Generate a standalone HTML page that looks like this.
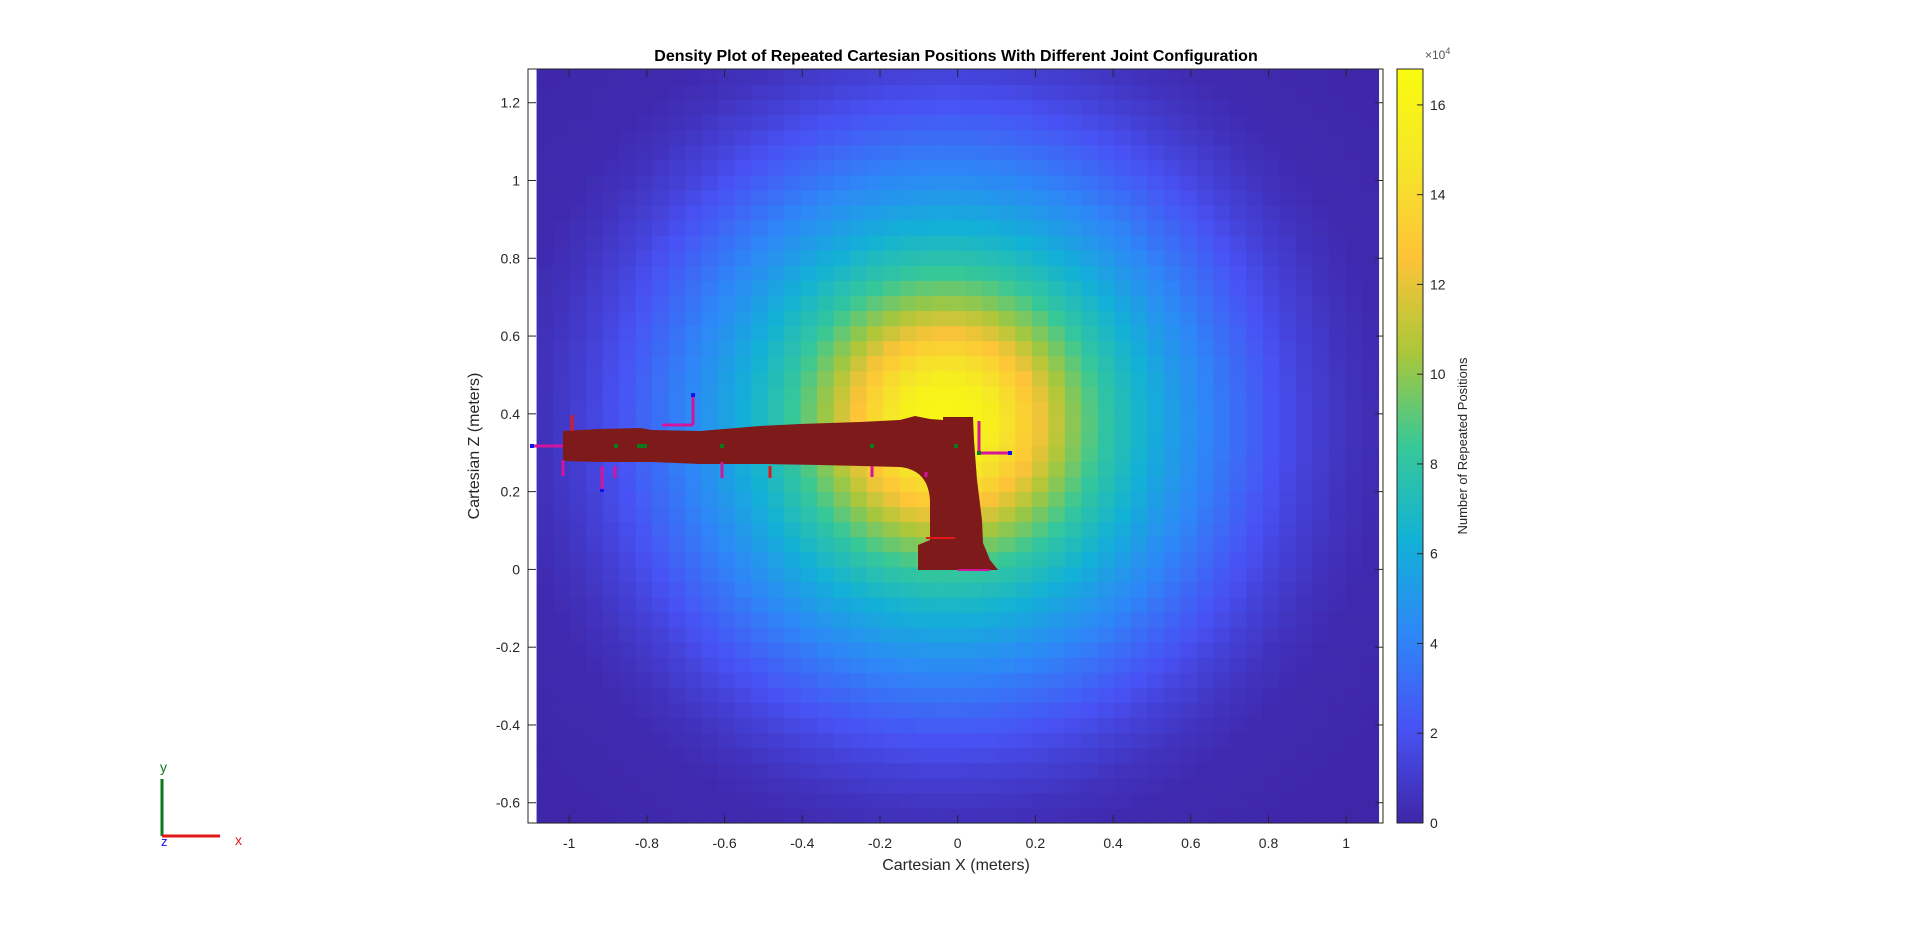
<!DOCTYPE html>
<html><head><meta charset="utf-8">
<style>
html,body{margin:0;padding:0;background:#fff;}
svg text{font-family:"Liberation Sans",Arial,sans-serif;}
</style></head>
<body>
<svg id="chart" width="1920" height="926" viewBox="0 0 1920 926" xmlns="http://www.w3.org/2000/svg">
<g id="heat"></g>
<g id="robot">
<path fill="#7f1a1a" d="M563,431 L600,429 L640,428 L652,430 L700,431 L760,426 L800,424 L860,422 L900,420 L915,416 L930,419 L943,420 L943,417 L973,417 L974,440 L977,480 L982,520 L983,543 L990,560 L998,570 L918,570 L918,545 L930,540 L930,500 Q928,470 900,467 L820,465 L760,464 L700,464 L652,462 L600,462 L563,461 Z"/>
<g stroke-width="3">
<line x1="533" y1="446" x2="563" y2="446" stroke="#d4149c"/><rect x="530" y="444" width="4" height="4" fill="#1010f0"/>
<line x1="572" y1="415" x2="572" y2="431" stroke="#e01818"/>
<line x1="563" y1="460" x2="563" y2="476" stroke="#d4149c"/>
<line x1="602" y1="466" x2="602" y2="490" stroke="#d4149c"/><rect x="600" y="489" width="4" height="3" fill="#1010f0"/>
<line x1="615" y1="466" x2="615" y2="478" stroke="#d4149c"/>
<line x1="693" y1="395" x2="693" y2="425" stroke="#d4149c"/><rect x="691" y="393" width="4" height="4" fill="#1010f0"/>
<line x1="662" y1="425" x2="693" y2="425" stroke="#d4149c"/>
<line x1="722" y1="462" x2="722" y2="478" stroke="#d4149c"/>
<line x1="770" y1="466" x2="770" y2="478" stroke="#e01818"/>
<line x1="872" y1="466" x2="872" y2="477" stroke="#d4149c"/>
<line x1="926" y1="472" x2="926" y2="477" stroke="#d4149c"/>
<line x1="979" y1="421" x2="979" y2="452" stroke="#d4149c"/>
<line x1="979" y1="453" x2="1010" y2="453" stroke="#d4149c"/><rect x="1008" y="451" width="4" height="4" fill="#1010f0"/>
<line x1="926" y1="538" x2="955" y2="538" stroke="#e01818" stroke-width="2"/>
<line x1="958" y1="570" x2="990" y2="570" stroke="#d4149c" stroke-width="2"/>
</g>
<g fill="#0a7a1a">
<rect x="614" y="444" width="4" height="4"/><rect x="637" y="444" width="10" height="4"/><rect x="720" y="444" width="4" height="4"/><rect x="870" y="444" width="4" height="4"/><rect x="954" y="444" width="4" height="4"/><rect x="977" y="451" width="4" height="4"/>
</g>
</g>
<g id="axes"></g>
<g id="cbar"></g>
<text x="956" y="61" text-anchor="middle" font-size="16" font-weight="bold" fill="#000">Density Plot of Repeated Cartesian Positions With Different Joint Configuration</text>
<text x="956" y="870" text-anchor="middle" font-size="16" fill="#262626">Cartesian X (meters)</text>
<text transform="translate(479,446) rotate(-90)" text-anchor="middle" font-size="16" fill="#262626">Cartesian Z (meters)</text>
<text transform="translate(1467,446) rotate(-90)" text-anchor="middle" font-size="13" fill="#262626">Number of Repeated Positions</text>
<g>
<line x1="162" y1="779" x2="162" y2="836" stroke="#0a7a1a" stroke-width="3"/>
<line x1="162" y1="836" x2="220" y2="836" stroke="#e01818" stroke-width="3"/>
<text x="160" y="772" font-size="14" fill="#0a7a1a">y</text>
<text x="235" y="845" font-size="14" fill="#e01818">x</text>
<text x="161" y="846" font-size="13" fill="#1010f0">z</text>
</g>
</svg>
<script>
// radial density profile (distance from peak in metres -> count)
const radii = [0, 0.1, 0.2, 0.3, 0.4, 0.5, 0.6, 0.7, 0.8, 0.9, 1.0, 1.1, 1.4];
const counts = [166000, 158000, 133000, 103000, 80000, 63000, 48000, 35000, 23000, 13000, 6000, 2000, 0];
const peak = [-0.03, 0.38];
const xTicks = [-1, -0.8, -0.6, -0.4, -0.2, 0, 0.2, 0.4, 0.6, 0.8, 1];
const yTicks = [-0.6, -0.4, -0.2, 0, 0.2, 0.4, 0.6, 0.8, 1, 1.2];
const cTicks = [0, 2, 4, 6, 8, 10, 12, 14, 16];

const NS = "http://www.w3.org/2000/svg";
const L = 528, R = 1383, T = 69, B = 823;
const sx = v => 957.7 + v * 388.5;
const sy = v => 569.4 - v * 388.9;
const cbTop = 69, cbBot = 823, cbL = 1397, cbR = 1423, cMax = 168000;
const sc = v => cbBot - v / cMax * (cbBot - cbTop);
const par = [[62,38,168],[72,82,244],[46,135,247],[18,177,214],[55,200,151],[171,199,57],[254,195,56],[245,230,40],[249,251,14]];
function color(v) {
  let t = Math.max(0, Math.min(1, v / cMax)) * (par.length - 1);
  let i = Math.min(par.length - 2, Math.floor(t)), f = t - i;
  const c = par[i].map((a, k) => Math.round(a + (par[i + 1][k] - a) * f));
  return `rgb(${c[0]},${c[1]},${c[2]})`;
}
function interp(r) {
  for (let i = 0; i < radii.length - 1; i++) {
    if (r <= radii[i + 1]) { const f = (r - radii[i]) / (radii[i + 1] - radii[i]); return counts[i] + (counts[i + 1] - counts[i]) * f; }
  }
  return counts[counts.length - 1];
}
function mk(tag, attrs, parent) {
  const e = document.createElementNS(NS, tag);
  for (const k in attrs) e.setAttribute(k, attrs[k]);
  parent.appendChild(e); return e;
}
// heatmap
const heat = document.getElementById('heat');
const x0 = -1.084, x1 = 1.083, y0 = -0.652, y1 = 1.286, nx = 51, ny = 50;
const dx = (x1 - x0) / nx, dy = (y1 - y0) / ny;
for (let j = 0; j < ny; j++) for (let i = 0; i < nx; i++) {
  const cx = x0 + (i + 0.5) * dx, cy = y0 + (j + 0.5) * dy;
  const r = Math.hypot((cx - peak[0]) * 0.97, (cy - peak[1]));
  const v = interp(r);
  const px = sx(x0 + i * dx), py = sy(y0 + (j + 1) * dy);
  const rc = mk('rect', {x: px.toFixed(2), y: py.toFixed(2), width: (dx * 388.5 + 0.6).toFixed(2), height: (dy * 388.9 + 0.6).toFixed(2), fill: color(v)}, heat);
  
  
}
// axes
const ax = document.getElementById('axes');
const box = mk('rect', {x: L, y: T, width: R - L, height: B - T, fill: 'none', stroke: '#262626', 'stroke-width': 1}, ax);


xTicks.forEach(v => {
  const x = sx(v);
  mk('line', {x1: x, y1: B, x2: x, y2: B - 8, stroke: '#262626'}, ax);
  mk('line', {x1: x, y1: T, x2: x, y2: T + 8, stroke: '#262626'}, ax);
  const t = mk('text', {x: x, y: B + 25, 'text-anchor': 'middle', 'font-size': 14, fill: '#262626'}, ax);
  t.textContent = String(v);
  
  
});
yTicks.forEach(v => {
  const y = sy(v);
  mk('line', {x1: L, y1: y, x2: L + 8, y2: y, stroke: '#262626'}, ax);
  mk('line', {x1: R, y1: y, x2: R - 8, y2: y, stroke: '#262626'}, ax);
  const t = mk('text', {x: L - 8, y: y + 5, 'text-anchor': 'end', 'font-size': 14, fill: '#262626'}, ax);
  t.textContent = String(v);
  
  
});
// colorbar
const cb = document.getElementById('cbar');
const defs = mk('defs', {}, cb);
const g = mk('linearGradient', {id: 'cg', x1: 0, y1: 1, x2: 0, y2: 0}, defs);
par.forEach((c, i) => mk('stop', {offset: i / (par.length - 1), 'stop-color': `rgb(${c})`}, g));
const cr = mk('rect', {x: cbL, y: cbTop, width: cbR - cbL, height: cbBot - cbTop, fill: 'url(#cg)', stroke: '#262626'}, cb);


cTicks.forEach(v => {
  const y = sc(v * 10000);
  mk('line', {x1: cbR - 6, y1: y, x2: cbR, y2: y, stroke: '#262626'}, cb);
  const t = mk('text', {x: cbR + 7, y: y + 5, 'font-size': 14, fill: '#262626'}, cb);
  t.textContent = String(v);
  
  
});
const ex = mk('text', {x: 1425, y: 59, 'font-size': 12, fill: '#555'}, cb);
ex.innerHTML = '×10<tspan dy="-5" font-size="9">4</tspan>';


</script>
</body></html>
